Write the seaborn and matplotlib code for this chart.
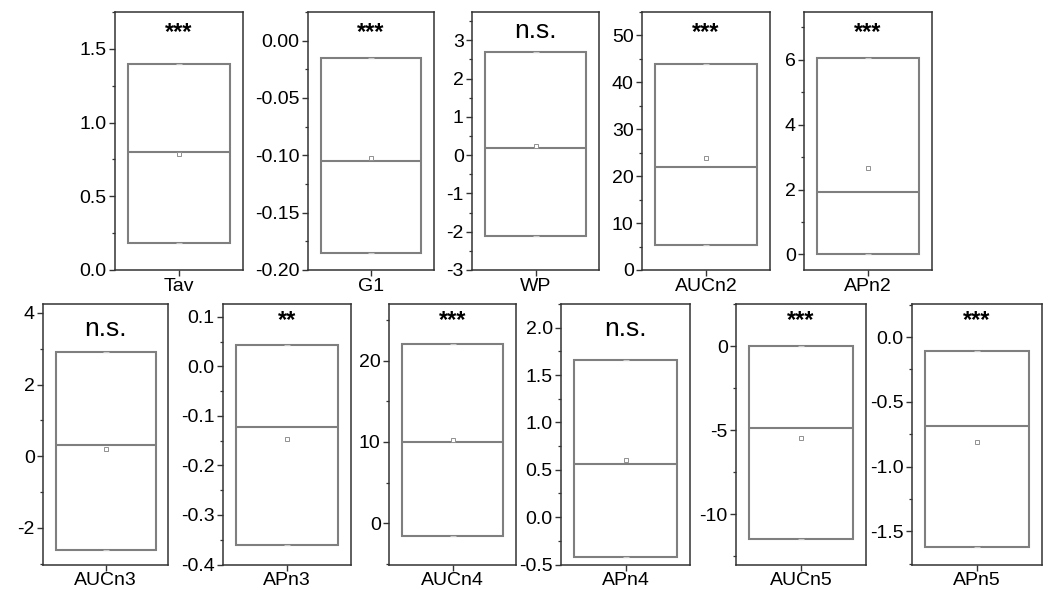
import numpy as np
import pandas as pd
import matplotlib
matplotlib.use("Agg")
import matplotlib.pyplot as plt
import seaborn as sns
from matplotlib.ticker import MultipleLocator, FormatStrFormatter

# ---- data ----
names = ["Tav", "G1", "WP", "AUCn2", "APn2",
         "AUCn3", "APn3", "AUCn4", "APn4", "AUCn5", "APn5"]
box_low = [0.18, -0.185, -2.12, 5.3, 0.0, -2.61, -0.361, -1.6, -0.42, -11.47, -1.617]
box_high = [1.40, -0.015, 2.70, 43.9, 6.05, 2.92, 0.044, 22.05, 1.66, 0.0, -0.109]
medians = [0.80, -0.105, 0.19, 22.0, 1.93, 0.31, -0.122, 10.05, 0.556, -4.87, -0.69]
means = [0.79, -0.102, 0.24, 23.8, 2.66, 0.20, -0.147, 10.25, 0.60, -5.46, -0.806]
signif = ["***", "***", "n.s.", "***", "***", "n.s.", "**", "***", "n.s.", "***", "***"]
ylims = [(0, 1.75), (-0.2, 0.025), (-3, 3.74), (0, 55), (-0.48, 7.47),
         (-3.02, 4.25), (-0.4, 0.126), (-5.1, 27), (-0.5, 2.25), (-13, 2.5), (-1.755, 0.255)]
major_step = [0.5, 0.05, 1, 10, 2, 2, 0.1, 10, 0.5, 5, 0.5]
tick_fmt = ["%.1f", "%.2f", "%d", "%d", "%d", "%d", "%.1f", "%d", "%.1f", "%d", "%.1f"]

# ---- layout (pixels in a 1049x590 canvas) ----
W, H = 1049, 590
px_left = [115, 308, 472, 642, 804, 43, 223, 389, 561, 736, 912]
px_right = [243, 434, 599, 770, 932, 168, 351, 516, 690, 866, 1042]
row_top = [12, 12, 12, 12, 12, 304, 304, 304, 304, 304, 304]
row_bot = [270, 270, 270, 270, 270, 564.5, 564.5, 564.5, 564.5, 564.5, 564.5]

sns.set_style("ticks")
plt.rcParams["font.family"] = ["Liberation Sans", "DejaVu Sans"]
plt.rcParams["axes.unicode_minus"] = False

fig = plt.figure(figsize=(W / 100, H / 100), dpi=100)
spine_col = "#333333"
box_col = "#7f7f7f"

for i, name in enumerate(names):
    l, r = px_left[i], px_right[i]
    t, b = row_top[i], row_bot[i]
    ax = fig.add_axes([l / W, 1 - b / H, (r - l) / W, (b - t) / H])
    lo, md, hi = box_low[i], medians[i], box_high[i]
    df = pd.DataFrame({"var": [name] * 5, "val": [lo, lo, md, hi, hi]})
    sns.boxplot(data=df, x="var", y="val", ax=ax, width=0.8, color="white",
                linecolor=box_col, linewidth=1.5, showcaps=False, fliersize=0)
    # faint end markers
    ax.plot([0, 0], [lo, hi], ls="none", marker="_", ms=5, mew=0.8, color="#c8c8c8", zorder=3)
    # mean marker
    ax.plot([0], [means[i]], ls="none", marker="s", ms=3, mfc="white", mec="#909090", mew=0.7, zorder=4)

    ax.set_xlim(-0.5, 0.5)
    ax.set_ylim(*ylims[i])
    ax.yaxis.set_major_locator(MultipleLocator(major_step[i]))
    ax.yaxis.set_minor_locator(MultipleLocator(major_step[i] / 2))
    ax.yaxis.set_major_formatter(FormatStrFormatter(tick_fmt[i]))
    ax.set_xticks([0])
    ax.set_xticklabels([name])
    ax.set_xlabel("")
    ax.set_ylabel("")
    for s in ax.spines.values():
        s.set_visible(True)
        s.set_color(spine_col)
        s.set_linewidth(1.1)
    ax.tick_params(axis="y", which="major", direction="out", length=4, width=1,
                   color=spine_col, labelsize=14, pad=2, labelcolor="black")
    ax.tick_params(axis="y", which="minor", direction="out", length=2.5, width=0.9, color=spine_col)
    ax.tick_params(axis="x", which="major", direction="out", length=4, width=1,
                   color=spine_col, labelsize=14, pad=1.5, labelcolor="black")

    top_row = i < 5
    if signif[i] == "n.s.":
        ax.text(0.5, 0.925 if top_row else 0.905, signif[i], transform=ax.transAxes,
                ha="center", va="center", fontsize=19, color="black")
    else:
        ax.text(0.5, 0.92 if top_row else 0.935, signif[i], transform=ax.transAxes,
                ha="center", va="center", fontsize=17, fontweight="bold", color="black")

fig.savefig("out.png", dpi=100)
